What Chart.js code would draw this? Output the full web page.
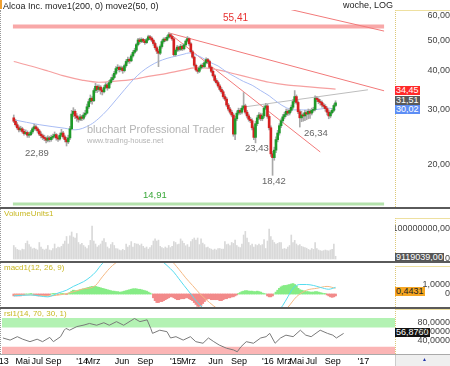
<!DOCTYPE html>
<html>
<head>
<meta charset="utf-8">
<script src="https://cdn.jsdelivr.net/npm/chart.js@4.4.0/dist/chart.umd.min.js"></script>
<style>
body{margin:0;background:#fff}
#wrap{position:relative;width:450px;height:366px;overflow:hidden;font-family:"Liberation Sans",Arial,sans-serif;color:#333}
#wrap canvas{position:absolute;left:0}
.t{position:absolute;white-space:nowrap;line-height:1}
.sep{position:absolute;left:0;width:450px;height:2px;background:#5a5a5a}
.axbox{position:absolute;left:395px;width:55px;border-left:1px dotted #dcc878;border-top:1px solid #eee0a0;box-sizing:border-box}
.val{position:absolute;left:395px;font-size:9px;line-height:9px;height:9px;padding:0 1px;white-space:nowrap}
</style>
</head>
<body>
<div id="wrap">
  <div class="axbox" style="top:10px;height:197px"></div>
  <div class="axbox" style="top:218px;height:43px"></div>
  <div class="axbox" style="top:266px;height:41px"></div>
  <div class="axbox" style="top:309px;height:45px"></div>
  <div style="position:absolute;left:0;top:10px;height:344px;border-left:1px dotted #999"></div>
  <div style="position:absolute;left:395px;top:355px;width:55px;height:11px;background:#efefef;border-left:1px solid #ccc"></div>

  <!-- Wertmarken unter den (transparenten) Canvas-Ebenen -->
  <div class="val" style="top:86px;background:#ff2a2a;color:#fff">34,45</div>
  <div class="val" style="top:96px;background:#5a5a5a;color:#fff">31,51</div>
  <div class="val" style="top:105px;background:#5d8ef5;color:#fff">30,02</div>
  <div class="val" style="top:253px;background:#555;color:#fff">9119039,00</div>
  <div class="val" style="top:287px;background:#f5a623;color:#222">0,4431</div>
  <div class="val" style="top:328px;background:#111;color:#fff">56,8760</div>

  <canvas id="cPrice" width="450" height="197" style="top:10px"></canvas>
  <canvas id="cVol" width="450" height="53" style="top:209px"></canvas>
  <canvas id="cMacd" width="450" height="44" style="top:263px"></canvas>
  <canvas id="cRsi" width="450" height="57" style="top:309px"></canvas>

  <div class="sep" style="top:207px"></div>
  <div class="sep" style="top:261px"></div>
  <div class="sep" style="top:307px"></div>
  <div class="sep" style="top:354px;height:1px;background:#aaa"></div>
  <div style="position:absolute;left:0;top:0;width:2px;height:9px;background:#f0a030"></div>

  <div class="t" style="left:3px;top:2px;font-size:9px;color:#222">Alcoa Inc. move1(200, 0) move2(50, 0)</div>
  <div class="t" style="right:57px;top:1px;font-size:9px;color:#222">woche, LOG</div>
  <div class="t" style="left:223px;top:13px;font-size:10px;color:#e83030">55,41</div>
  <div class="t" style="left:87px;top:124px;font-size:11px;color:#b4b4b4">bluchart Professional Trader</div>
  <div class="t" style="left:87px;top:137px;font-size:7.5px;color:#b4b4b4">www.trading-house.net</div>
  <div class="t" style="left:25px;top:148px;font-size:9.5px;color:#666">22,89</div>
  <div class="t" style="left:143px;top:190px;font-size:9.5px;color:#3aa83a">14,91</div>
  <div class="t" style="left:245px;top:143px;font-size:9.5px;color:#666">23,43</div>
  <div class="t" style="left:262px;top:176px;font-size:9.5px;color:#666">18,42</div>
  <div class="t" style="left:304px;top:128px;font-size:9.5px;color:#666">26,34</div>
  <div class="t" style="left:4px;top:210px;font-size:8px;color:#c8b822">VolumeUnits1</div>
  <div class="t" style="left:4px;top:264px;font-size:8px;color:#c8b822">macd1(12, 26, 9)</div>
  <div class="t" style="left:4px;top:310px;font-size:8px;color:#c8b822">rsi1(14, 70, 30, 1)</div>
  <div class="t" style="left:422px;top:357px;font-size:5px;color:#2233aa">▲</div>
</div>

<script>
// Wochenkerzen (Feb 2013 - Okt 2016)
const opens = [28.2,27.5,26.8,26.2,25.8,26.0,25.5,25.1,25.3,24.8,
  24.9,25.4,26.0,26.4,26.0,25.6,25.0,24.7,24.4,24.2,
  23.9,24.3,24.0,24.4,24.6,24.9,24.3,24.1,24.8,25.2,
  24.5,24.0,23.6,24.3,26.0,29.0,29.6,28.6,28.2,27.9,
  28.4,28.1,28.8,29.2,30.6,31.8,32.6,32.0,34.5,35.6,
  34.8,35.4,34.6,34.2,35.3,36.0,35.2,36.6,37.4,38.0,
  39.2,40.6,41.0,40.3,40.8,40.0,41.5,42.8,43.5,43.0,
  44.6,45.8,46.5,48.5,50.2,49.6,50.4,49.8,49.2,50.3,
  51.4,50.9,50.1,48.9,47.4,46.2,45.5,47.8,49.6,50.5,
  50.1,51.2,52.2,51.5,50.6,45.0,46.5,47.6,46.8,47.9,
  47.0,48.4,49.8,50.7,48.8,46.0,44.2,41.6,40.2,39.8,
  40.8,41.6,41.2,42.4,43.4,42.8,41.0,39.8,38.5,37.2,
  36.6,35.7,34.8,34.2,33.0,32.4,31.0,30.1,29.4,28.8,
  25.0,28.0,29.2,29.8,29.4,30.3,30.8,29.4,28.6,27.9,
  27.6,26.2,24.4,27.0,28.2,28.8,28.0,28.6,30.3,30.8,
  28.5,26.2,21.6,21.0,22.2,24.0,25.2,26.6,27.6,28.4,
  28.9,29.6,29.2,29.8,30.5,31.8,33.0,31.6,29.5,28.2,
  28.8,28.6,29.3,29.0,29.6,29.2,29.8,30.0,32.6,32.3,
  31.8,31.6,31.0,30.7,30.2,29.4,28.6,29.3,29.8,30.9];
const highs = [28.8,27.9,27.2,26.6,26.5,26.3,25.9,25.8,25.6,25.3,
  25.7,26.3,26.9,26.7,26.3,25.9,25.4,25.0,24.8,24.5,
  24.7,24.6,24.8,25.0,25.4,25.1,24.6,25.2,25.9,25.5,
  24.8,24.4,24.8,26.5,29.8,30.4,30.0,29.1,28.6,28.9,
  28.7,29.3,29.8,31.2,32.4,33.4,33.0,35.0,36.4,36.0,
  36.0,35.8,35.0,35.8,36.6,36.4,37.2,38.0,38.8,39.8,
  41.2,41.8,41.4,41.4,41.2,42.0,43.4,44.2,44.0,45.2,
  46.4,47.2,49.0,50.8,50.9,51.0,50.8,50.4,50.8,52.0,
  51.9,51.4,50.6,49.4,48.0,46.8,48.4,50.2,51.0,51.2,
  51.8,52.9,52.6,52.0,51.0,47.0,48.2,48.0,48.6,48.3,
  48.9,50.3,51.5,51.0,49.2,46.5,44.6,42.0,40.8,41.3,
  42.0,42.2,42.9,44.0,43.8,43.2,41.4,40.2,38.9,37.7,
  37.0,36.1,35.3,34.6,33.5,32.8,31.4,30.5,29.8,29.2,
  28.5,29.7,30.3,30.2,30.8,34.0,31.2,29.8,29.0,28.3,
  28.0,26.6,27.5,28.7,29.3,29.2,29.1,30.8,31.4,31.2,
  28.9,26.6,22.0,22.7,24.5,25.7,27.0,28.0,28.9,29.4,
  30.1,30.0,30.3,31.0,32.3,34.5,33.4,32.0,29.9,29.6,
  29.2,29.8,29.7,30.1,30.0,30.3,30.5,33.2,33.0,32.7,
  32.3,32.0,31.4,31.1,30.6,29.9,29.7,30.2,31.3,32.0];
const lows = [27.2,26.5,25.9,25.4,25.5,25.2,24.8,24.9,24.4,24.4,
  24.7,25.1,25.7,25.7,25.2,24.7,24.3,24.0,23.8,23.4,
  23.6,23.6,23.7,24.1,24.3,23.9,23.7,23.9,24.5,24.2,
  23.6,22.89,23.3,24.0,25.8,28.4,28.0,27.5,27.3,27.6,
  27.6,27.8,28.4,29.0,30.2,31.4,31.2,31.8,34.0,34.0,
  34.3,33.6,33.4,33.9,35.0,34.6,35.0,36.2,37.0,37.6,
  38.8,40.0,39.6,39.8,39.2,39.6,41.0,42.3,42.2,42.7,
  44.2,45.3,46.0,48.0,48.9,49.2,49.2,48.6,48.9,49.9,
  50.3,49.5,48.2,46.8,45.4,41.2,45.0,47.2,49.0,49.6,
  49.8,50.8,50.9,50.0,44.6,44.5,46.0,46.2,46.4,46.4,
  46.6,48.0,49.4,48.2,45.6,43.8,41.2,39.8,39.2,39.4,
  40.4,40.8,40.9,42.0,42.2,40.6,39.4,38.1,36.8,36.2,
  35.3,34.4,33.8,32.6,32.0,30.6,29.7,29.0,28.4,24.6,
  24.0,27.6,28.8,28.9,29.0,29.9,29.0,28.2,27.5,27.2,
  25.8,24.0,23.43,26.6,27.8,27.6,27.6,28.2,30.0,28.1,
  25.8,21.2,18.42,20.6,21.8,23.6,24.8,26.2,27.2,28.0,
  28.5,28.7,28.8,29.4,30.1,31.4,31.2,29.1,26.34,27.4,
  27.5,27.6,27.8,28.0,28.1,28.8,29.4,29.7,31.8,31.3,
  31.0,30.5,30.2,29.6,28.8,28.0,28.2,29.0,29.5,30.6];
const closes = [27.5,26.8,26.2,25.8,26.0,25.5,25.1,25.3,24.8,24.9,
  25.4,26.0,26.4,26.0,25.6,25.0,24.7,24.4,24.2,23.9,
  24.3,24.0,24.4,24.6,24.9,24.3,24.1,24.8,25.2,24.5,
  24.0,23.6,24.3,26.0,29.0,29.6,28.6,28.2,27.9,28.4,
  28.1,28.8,29.2,30.6,31.8,32.6,32.0,34.5,35.6,34.8,
  35.4,34.6,34.2,35.3,36.0,35.2,36.6,37.4,38.0,39.2,
  40.6,41.0,40.3,40.8,40.0,41.5,42.8,43.5,43.0,44.6,
  45.8,46.5,48.5,50.2,49.6,50.4,49.8,49.2,50.3,51.4,
  50.9,50.1,48.9,47.4,46.2,45.5,47.8,49.6,50.5,50.1,
  51.2,52.2,51.5,50.6,45.0,46.5,47.6,46.8,47.9,47.0,
  48.4,49.8,50.7,48.8,46.0,44.2,41.6,40.2,39.8,40.8,
  41.6,41.2,42.4,43.4,42.8,41.0,39.8,38.5,37.2,36.6,
  35.7,34.8,34.2,33.0,32.4,31.0,30.1,29.4,28.8,25.0,
  28.0,29.2,29.8,29.4,30.3,30.8,29.4,28.6,27.9,27.6,
  26.2,24.4,27.0,28.2,28.8,28.0,28.6,30.3,30.8,28.5,
  26.2,21.6,21.0,22.2,24.0,25.2,26.6,27.6,28.4,28.9,
  29.6,29.2,29.8,30.5,31.8,33.0,31.6,29.5,28.2,28.8,
  28.6,29.3,29.0,29.6,29.2,29.8,30.0,32.6,32.3,31.8,
  31.6,31.0,30.7,30.2,29.4,28.6,29.3,29.8,30.9,31.51];

// Volumen in Mio.
const volM = [45,38,32,30,28,33,31,52,60,48,
  40,34,36,33,30,55,40,33,30,33,
  45,30,28,35,50,35,40,38,42,50,
  60,75,50,77,90,73,70,85,55,48,
  52,45,40,35,45,62,110,60,50,40,
  45,50,60,68,55,40,35,48,55,45,
  35,34,30,28,32,29,50,40,45,58,
  40,52,50,50,45,50,42,36,40,33,
  38,45,60,67,60,63,42,38,35,40,
  36,45,38,42,58,55,48,50,67,60,
  52,44,48,40,58,65,70,63,70,48,
  67,53,48,38,40,35,33,30,33,30,
  35,35,33,33,58,48,50,45,55,52,
  63,45,40,38,50,80,92,70,55,45,
  50,40,48,45,50,45,48,65,35,60,
  100,75,63,55,50,52,55,55,33,35,
  33,40,45,80,55,62,50,45,48,42,
  40,38,36,32,30,35,32,55,35,30,
  28,26,28,30,28,27,30,32,50,9.1];

// MACD Histogramm
const macdHist = [-0.2,-0.2,-0.2,-0.2,-0.2,-0.1,-0.1,0,0,0,
  0.05,0,-0.1,-0.15,-0.2,-0.2,-0.15,-0.15,-0.2,-0.2,
  -0.15,-0.1,0,0.05,0.05,0,-0.05,0,0.05,0.05,
  0,-0.05,0.05,0.15,0.3,0.4,0.35,0.35,0.4,0.45,
  0.5,0.55,0.6,0.65,0.7,0.75,0.8,0.8,0.8,0.75,
  0.7,0.65,0.6,0.55,0.5,0.45,0.4,0.35,0.3,0.3,
  0.25,0.25,0.2,0.2,0.25,0.3,0.35,0.4,0.45,0.5,
  0.55,0.55,0.55,0.5,0.5,0.45,0.4,0.35,0.3,0.2,
  0.1,0,-0.4,-0.7,-0.9,-0.9,-0.8,-0.8,-0.7,-0.6,
  -0.5,-0.4,-0.3,-0.3,-0.4,-0.5,-0.6,-0.6,-0.5,-0.5,
  -0.5,-0.4,-0.4,-0.5,-0.6,-0.7,-0.9,-1.1,-1.3,-1.3,
  -1.2,-1.0,-0.8,-0.6,-0.5,-0.5,-0.6,-0.6,-0.6,-0.6,
  -0.6,-0.7,-0.7,-0.6,-0.5,-0.5,-0.4,-0.4,-0.3,-0.3,
  -0.2,-0.1,0.05,0.15,0.25,0.3,0.35,0.35,0.3,0.3,
  0.3,0.25,0.25,0.3,0.25,0.2,0.1,0.05,0,-0.2,
  -0.3,-0.3,-0.2,0,0.2,0.4,0.6,0.75,0.85,0.9,
  0.9,0.95,1.0,1.05,1.1,1.0,0.85,0.6,0.45,0.4,
  0.35,0.3,0.25,0.25,0.2,0.2,0.2,0.25,0.25,0.2,
  0.15,0.1,0.05,0.05,-0.1,-0.2,-0.3,-0.35,-0.3,-0.2];

const ma50Idx = [0,15,30,36,45,50,55,60,65,70,75,80,85,90,95,100,103,107,110,115,120,125,130,135,140,145,150,155,160,165,170,175,180,185,189];
const ma50Val = [27.8,26.8,26.1,25.8,26.8,28.1,29.9,32.2,34.7,37.3,39.6,41.4,42.8,43.8,44.5,45.2,45.6,44.9,44.2,42.6,41.4,39.6,38.2,36.9,35.9,34.5,33.2,31.6,30.4,29.9,29.9,29.9,30.1,30.3,30.02];
const ma200Idx = [0,10,20,30,40,50,60,70,80,90,100,106,112,120,130,140,150,160,170,180,189];
const ma200Val = [42.8,41.4,39.9,38.4,37.3,36.7,37.0,37.5,38.4,39.2,40.2,40.8,40.8,40.2,39.0,37.8,36.7,36.0,35.6,35.2,34.9];
const macdIdx = [0,10,20,26,31,35,41,45,48,52,60,70,80,86,90,94,97,100,104,108,112,120,130,140,150,155,158,161,164,168,172,176,180,185,189];
const macdVal = [-0.2,-0.1,-0.3,0.1,0.4,0.8,1.3,1.8,2.3,3.2,4.2,4.6,4.3,3.6,3.0,2.3,1.6,0.9,0.0,-0.9,-1.6,-2.6,-3.2,-3.0,-2.6,-1.9,-1.2,-0.3,0.6,1.0,1.0,0.9,0.7,0.5,0.7];
const signalIdx = [0,10,20,30,40,48,52,58,70,85,92,97,101,105,110,115,120,130,145,155,161,166,172,178,184,189];
const signalVal = [-0.1,-0.1,-0.2,0,0.5,0.9,1.8,3.0,4.2,4.4,3.6,2.6,1.7,0.9,-0.1,-0.9,-1.6,-2.6,-2.9,-2.4,-1.4,-0.3,0.4,0.6,0.8,0.6];
const rsiIdx = [0,4,8,11,15,19,22,26,28,32,34,35,37,41,45,48,52,56,59,63,67,71,73,76,80,82,83,87,91,93,96,100,104,107,111,114,117,120,124,128,130,132,135,139,143,146,148,151,154,157,161,165,168,171,176,180,183,185,189];
const rsiVal = [46.7,42,49.6,44,38.5,44,38.5,48,38.5,49.6,64,68,64,72,75.5,79,75,80.6,75,83,75,85,90,83,87,68,57,64,60.7,46.7,49.6,42,49.6,38.5,35,46.7,38.5,31,24,20,16,27,38.5,35,46.7,49.6,57,35,46.7,53,49.6,64,53,49.6,64,57,53,46.7,56.876];

// Trendlinien und Marken
const trendA = { idx: [91, 217.5], val: [52.9, 34.45] };
const trendB = { idx: [91, 180], val: [52.9, 21.9] };
const trendC = { idx: [146, 217.5], val: [66.0, 53.6] };
const trendGray = { idx: [136, 208], val: [30.6, 34.7] };
const resistance = 55.41;
const support = 14.91;

// Zeitachse
const tickIdx = [0,11,19,28,44,50,66,79,96,103,118,131,147,156,163,171,183,200];
const tickText = ["'13","Mai","Jul","Sep","'14","Mrz","Jun","Sep","'15","Mrz","Jun","Sep","'16","Mrz","Mai","Jul","Sep","'17"];

const X_MIN = -0.5, X_MAX = 217.5;

function de(v, d){ return v.toFixed(d).replace('.', ','); }
function pts(xs, ys){ return xs.map((x, k) => ({ x: x, y: ys[k] })); }
function flat(v){ return pts([X_MIN, X_MAX], [v, v]); }

function line(data, color, width, order, smooth){
  return { type: 'line', data: data, borderColor: color, borderWidth: width, pointRadius: 0,
    fill: false, spanGaps: true, clip: 0, order: order,
    cubicInterpolationMode: smooth ? 'monotone' : 'default' };
}

function yScale(type, min, max, tickVals, pad, fmt){
  return {
    type: type, position: 'right', min: min, max: max,
    grid: { display: false, drawTicks: false }, border: { display: false },
    afterBuildTicks: s => { s.ticks = tickVals.map(v => ({ value: v })); },
    afterFit: s => { s.width = 55; s.paddingTop = 0; s.paddingBottom = 0; },
    ticks: { autoSkip: false, crossAlign: 'far', padding: pad, color: '#444',
      font: { size: 9, family: 'Liberation Sans' }, callback: fmt }
  };
}

function xScale(show){
  return {
    type: 'linear', min: X_MIN, max: X_MAX, display: show,
    grid: { display: false, drawTicks: false }, border: { display: false },
    afterBuildTicks: s => { s.ticks = tickIdx.map(v => ({ value: v })); },
    afterFit: s => { s.height = show ? 12 : 0; s.paddingLeft = 0; s.paddingRight = 0; },
    ticks: { autoSkip: false, maxRotation: 0, padding: 2, color: '#000',
      font: { size: 9, family: 'Liberation Sans' }, callback: (v, k) => tickText[k] }
  };
}

function opts(scales){
  return {
    responsive: false, animation: false, events: [], devicePixelRatio: 1,
    layout: { padding: { left: 2, right: 0, top: 0, bottom: 0 } },
    plugins: { legend: { display: false }, tooltip: { enabled: false } },
    scales: scales
  };
}

const weeks = closes.map((c, i) => i);

// Kurs
new Chart(document.getElementById('cPrice'), {
  type: 'bar',
  data: { datasets: [
    { type: 'bar', data: weeks.map(i => ({ x: i, y: [opens[i], closes[i]] })),
      backgroundColor: ctx => closes[ctx.dataIndex] >= opens[ctx.dataIndex] ? '#1f9a2a' : '#d42020',
      barThickness: 2, minBarLength: 1, grouped: false, order: 0, clip: 0 },
    { type: 'bar', data: weeks.map(i => ({ x: i, y: [lows[i], highs[i]] })),
      backgroundColor: '#a9a9a9', barThickness: 1, grouped: false, order: 1, clip: 0 },
    line(pts(ma50Idx, ma50Val), '#a8bcf4', 1, 2, true),
    line(pts(ma200Idx, ma200Val), '#f6a0a0', 1.2, 2, true),
    line(pts(trendA.idx, trendA.val), '#f27a7a', 1, 3),
    line(pts(trendB.idx, trendB.val), '#f27a7a', 1, 3),
    line(pts(trendC.idx, trendC.val), '#f27a7a', 1, 3),
    line(pts(trendGray.idx, trendGray.val), '#bdbdbd', 1, 3),
    line(flat(resistance), '#f8a8a8', 4, 5),
    line(flat(support), '#b4e2ac', 3, 5)
  ]},
  options: opts({
    x: xScale(false),
    y: yScale('logarithmic', 14.57, 62.66, [20, 30, 40, 50, 60], 34, v => de(v, 2))
  })
});

// Volumen
new Chart(document.getElementById('cVol'), {
  type: 'bar',
  data: { datasets: [
    { data: weeks.map(i => ({ x: i, y: volM[i] * 1e6 })), backgroundColor: '#d9d9d9',
      barThickness: 1, grouped: false, clip: 0 }
  ]},
  options: opts({
    x: xScale(false),
    y: yScale('linear', -10e6, 166.7e6, [0, 1e8], 2, v => v === 0 ? '0' : de(v, 2))
  })
});

// MACD
new Chart(document.getElementById('cMacd'), {
  type: 'bar',
  data: { datasets: [
    line(pts(macdIdx, macdVal), '#56dcef', 1, 0, true),
    line(pts(signalIdx, signalVal), '#f5b984', 1, 0, true),
    { type: 'bar', data: weeks.map(i => ({ x: i, y: macdHist[i] })),
      backgroundColor: ctx => macdHist[ctx.dataIndex] >= 0 ? '#86ec86' : '#f28a8a',
      barThickness: 2, grouped: false, order: 1, clip: 0 }
  ]},
  options: opts({
    x: xScale(false),
    y: yScale('linear', -1.368, 3.263, [0, 1], 28, v => v === 0 ? '0' : de(v, 4))
  })
});

// RSI
new Chart(document.getElementById('cRsi'), {
  type: 'line',
  data: { datasets: [
    line(pts(rsiIdx, rsiVal), '#7a7a7a', 1, 0),
    { type: 'line', data: flat(91), borderWidth: 0, pointRadius: 0, fill: { value: 70 },
      backgroundColor: '#b3f2b3', order: 2 },
    { type: 'line', data: flat(27), borderWidth: 0, pointRadius: 0, fill: { value: 11.1 },
      backgroundColor: '#fbb5b5', order: 2 }
  ]},
  options: opts({
    x: xScale(true),
    y: yScale('linear', 11.1, 111.1, [40, 60, 80], 28, v => de(v, 4))
  })
});
</script>
</body>
</html>
